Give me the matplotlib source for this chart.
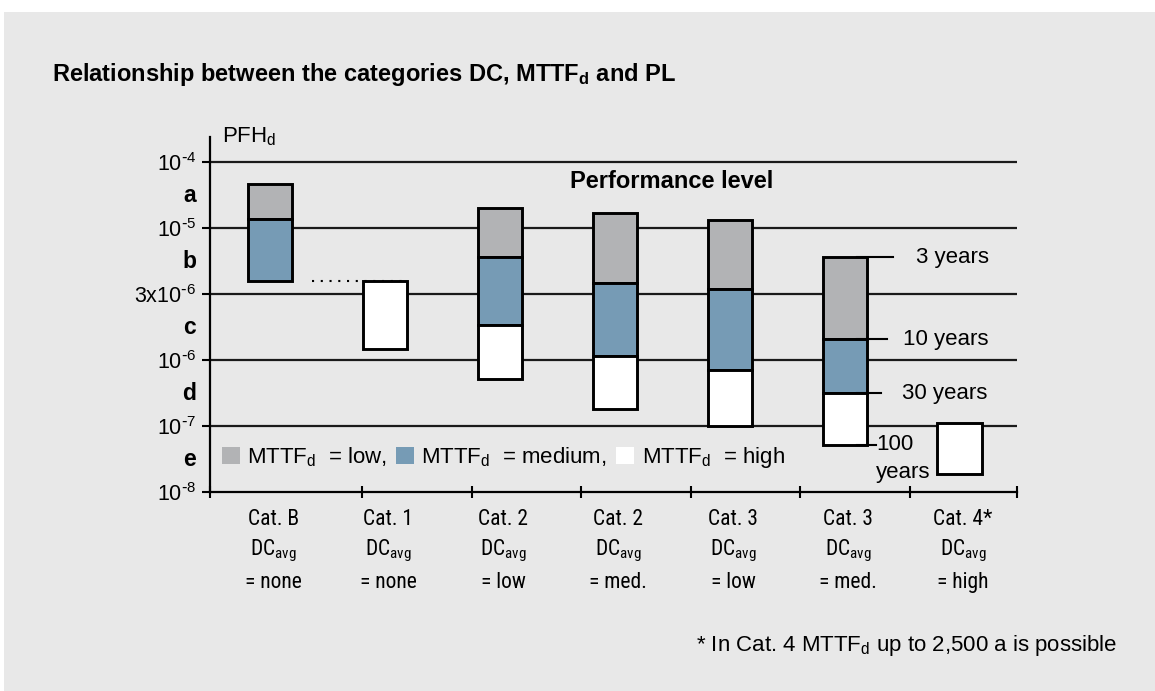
import numpy as np
import matplotlib
matplotlib.use("Agg")
import matplotlib.pyplot as plt
from matplotlib import font_manager
from matplotlib.font_manager import FontProperties
from matplotlib.patches import Patch, Rectangle
from matplotlib.transforms import blended_transform_factory

# ------------------------------ data ------------------------------ #
categories = ["Cat. B", "Cat. 1", "Cat. 2", "Cat. 2", "Cat. 3", "Cat. 3", "Cat. 4*"]
dc_avg = ["= none", "= none", "= low", "= med.", "= low", "= med.", "= high"]

# PFHd ranges (upper, lower) per category, None = no bar
mttf_low = [(4.59e-5, 1.36e-5), None, (1.99e-5, 5.87e-6), (1.69e-5, 3.65e-6),
            (1.31e-5, 3.29e-6), (5.87e-6, 1.42e-6), None]
mttf_med = [(1.36e-5, 3.81e-6), None, (5.87e-6, 1.79e-6), (3.65e-6, 1.07e-6),
            (3.29e-6, 7.18e-7), (1.42e-6, 3.16e-7), None]
mttf_high = [None, (3.81e-6, 1.21e-6), (1.79e-6, 5.25e-7), (1.07e-6, 1.82e-7),
             (7.18e-7, 1.01e-7), (3.16e-7, 5.2e-8), (1.12e-7, 1.89e-8)]

# PFHd band limits and performance levels
pfh_limits = [1e-8, 1e-7, 1e-6, 3e-6, 1e-5, 1e-4]
pfh_labels = [r"$10^{\text{-}8}$", r"$10^{\text{-}7}$", r"$10^{\text{-}6}$",
              r"3x$10^{\text{-}6}$", r"$10^{\text{-}5}$", r"$10^{\text{-}4}$"]
pl_names = ["e", "d", "c", "b", "a"]

# MTTFd annotation on Cat. 3 / DC med.
mttf_years = ["3 years", "10 years", "30 years", "100\nyears"]

# ------------------------------ style ------------------------------ #
plt.rcParams["font.family"] = ["Liberation Sans", "DejaVu Sans"]
plt.rcParams["mathtext.default"] = "regular"


def find_narrow():
    # look for a condensed sans face for the category labels
    prefer = ["Liberation Sans Narrow", "Arial Narrow", "Roboto Condensed",
              "Open Sans Condensed", "Noto Sans", "DejaVu Sans"]
    found = []
    for f in font_manager.fontManager.ttflist:
        nm = f.name.lower()
        fn = f.fname.lower()
        narrow = ("narrow" in nm or "condensed" in nm or "narrow" in fn
                  or "condensed" in fn or f.stretch in ("condensed", "semi-condensed",
                                                        "extra-condensed", "ultra-condensed"))
        if not narrow or "mono" in nm or "serif" in nm.replace("sans", ""):
            continue
        if f.style != "normal" or f.weight not in (400, "normal", "regular"):
            continue
        if "semi" in fn or "semi" in str(f.stretch):
            continue
        found.append(f)
    for p in prefer:
        for f in found:
            if f.name == p:
                return FontProperties(fname=f.fname)
    if found:
        return FontProperties(fname=found[0].fname)
    return None


narrow_fp = find_narrow()

c_low = "#b2b3b5"
c_med = "#769bb5"
c_high = "#ffffff"
c_bg = "#e8e8e8"
fs = 16
fs_tick = 15.5
fs_bold = 17

# equally spaced bands between the PFHd limits
lvl_vals = np.log10(pfh_limits + [1e-3])
lvl_idx = np.arange(len(lvl_vals))


def fwd(v):
    v = np.clip(np.asarray(v, dtype=float), 1e-12, None)
    return np.interp(np.log10(v), lvl_vals, lvl_idx)


def inv(l):
    return 10 ** np.interp(np.asarray(l, dtype=float), lvl_idx, lvl_vals)


fig = plt.figure(figsize=(11.55, 6.91), dpi=100)
fig.patches.append(Rectangle((4 / 1155, 0), 1, 1 - 12 / 691, transform=fig.transFigure,
                             facecolor=c_bg, edgecolor="none", zorder=-10))

ax = fig.add_axes([0.1818, 0.2876, 0.6987, 0.5141])
ax.set_facecolor("none")
ax.set_yscale("function", functions=(fwd, inv))
ax.set_ylim(pfh_limits[0], inv(5.38))
ax.set_xlim(-0.52, 6.5)

x = np.arange(len(categories))
bar_w = 0.383

# grid lines of the PL bands
for v in pfh_limits[1:]:
    ax.axhline(v, color="#1a1a1a", lw=1.6, zorder=1)

for series, col in [(mttf_low, c_low), (mttf_med, c_med), (mttf_high, c_high)]:
    for xi, seg in zip(x, series):
        if seg is None:
            continue
        top, bot = seg
        ax.bar(xi, top - bot, bottom=bot, width=bar_w, color=col,
               edgecolor="black", linewidth=2.1, zorder=3)

# dotted line from Cat. B bottom to Cat. 1
ax.plot([x[0] + 0.37, x[1] + bar_w / 2], [mttf_med[0][1]] * 2, color="black",
        lw=1.5, ls=(0, (1, 3.2)), zorder=2)

# MTTFd year marks on Cat. 3 med.
k = 5
edges = [mttf_low[k][0], mttf_low[k][1], mttf_med[k][1], mttf_high[k][1]]
line_ends = [0.255, 0.195, 0.15, 0.107]
text_x = [0.455, 0.342, 0.334, 0.1]
for e, le, tx, lab in zip(edges, line_ends, text_x, mttf_years):
    ax.plot([x[k] + 0.11, x[k] + 0.17 + le], [e, e], color="black", lw=1.5, zorder=4)
    if "\n" in lab:
        top, bottom = lab.split("\n")
        ax.text(x[k] + 0.17 + le, e, top, fontsize=fs, va="center", ha="left", zorder=5)
        ax.text(x[k] + 0.17 + le, inv(fwd(e) - 0.42), bottom, fontsize=fs,
                va="center", ha="left", zorder=5)
    else:
        ax.text(x[k] + 0.17 + tx, e, lab, fontsize=fs, va="center", ha="left")

ax.text(3.5, inv(4.7), "Performance level", fontsize=fs_bold, fontweight="bold",
        ha="center", va="center")

# axes
for s in ["top", "right"]:
    ax.spines[s].set_visible(False)
for s in ["left", "bottom"]:
    ax.spines[s].set_linewidth(1.6)
ax.set_yticks(pfh_limits, pfh_labels)
ax.tick_params(axis="y", direction="out", length=6, width=1.5, pad=4, labelsize=fs_tick)
ax.minorticks_off()

separators = [-0.52, 0.802, 1.758, 2.705, 3.661, 4.613, 5.569, 6.497]
ax.set_xticks(separators, [""] * len(separators))
ax.tick_params(axis="x", direction="inout", length=9, width=1.5)

trans = blended_transform_factory(ax.transAxes, ax.transData)
for i, name in enumerate(pl_names):
    ax.text(-0.0173, inv(i + 0.5), name, transform=trans, ha="right", va="center",
            fontsize=fs_bold - 0.5, fontweight="bold")

# category labels under the axis
if narrow_fp is not None:
    lab_kw = {"fontproperties": narrow_fp, "fontsize": 15.5}
else:
    lab_kw = {"fontsize": 14}
xtrans = blended_transform_factory(ax.transData, ax.transAxes)
for xi, cat, dc in zip(x, categories, dc_avg):
    ax.text(xi + 0.03, -0.092, cat, transform=xtrans, ha="center", va="baseline", **lab_kw)
    ax.text(xi + 0.03, -0.179, "DC$_{avg}$", transform=xtrans, ha="center",
            va="baseline", **lab_kw)
    ax.text(xi + 0.03, -0.269, dc, transform=xtrans, ha="center", va="baseline", **lab_kw)

# legend
handles = [Patch(facecolor=c_low, edgecolor="none"),
           Patch(facecolor=c_med, edgecolor="none"),
           Patch(facecolor=c_high, edgecolor="none")]
leg_labels = ["MTTF$_{d}$  = low,", "MTTF$_{d}$  = medium,", "MTTF$_{d}$  = high"]
ax.legend(handles, leg_labels, ncol=3, loc="center left", bbox_to_anchor=(0.0149, 0.0966),
          frameon=False, fontsize=fs, handlelength=0.8, handleheight=0.8,
          handletextpad=0.33, columnspacing=0.42, borderpad=0, borderaxespad=0)

# texts outside the axes
fig.text(51.7 / 1155, 1 - 81 / 691, "Relationship between the categories DC, MTTF$_{d}$ and PL",
         fontsize=fs_bold, fontweight="bold", va="baseline", ha="left")
fig.text(222 / 1155, 1 - 142 / 691, "PFH$_{d}$", fontsize=fs, va="baseline", ha="left")
fig.text(1117 / 1155, 1 - 651 / 691, "* In Cat. 4 MTTF$_{d}$ up to 2,500 a is possible",
         fontsize=fs, va="baseline", ha="right")

fig.savefig("out.png", dpi=100, facecolor="white")
